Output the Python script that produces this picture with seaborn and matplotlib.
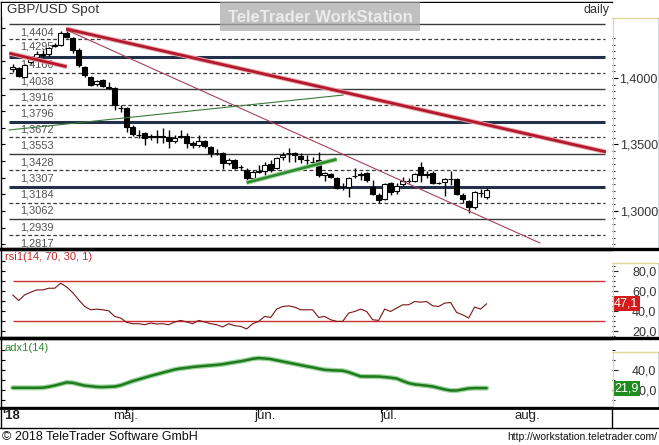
import numpy as np
import pandas as pd
import matplotlib
matplotlib.use("Agg")
import matplotlib.pyplot as plt
import matplotlib.ticker as mticker
import matplotlib.transforms as mtransforms
from matplotlib.patches import Rectangle
from matplotlib.lines import Line2D
import seaborn as sns

sns.set_style("white")
plt.rcParams['font.family'] = ['Liberation Sans', 'DejaVu Sans']

# ---------------- data (daily GBP/USD, trading-day index) ----------------
opens = [1.4065, 1.4077, 1.4010, 1.4120, 1.4158, 1.4173, 1.4180, 1.4244, 1.4248, 1.4338,
         1.4301, 1.4211, 1.4083, 1.4008, 1.3953, 1.3985, 1.3932, 1.3925, 1.3778, 1.3774,
         1.3632, 1.3575, 1.3586, 1.3564, 1.3564, 1.3564, 1.3556, 1.3526, 1.3560, 1.3564,
         1.3511, 1.3496, 1.3526, 1.3481, 1.3436, 1.3436, 1.3361, 1.3383, 1.3331, 1.3308,
         1.3248, 1.3293, 1.3301, 1.3353, 1.3323, 1.3406, 1.3436, 1.3436, 1.3413, 1.3383,
         1.3372, 1.3383, 1.3271, 1.3278, 1.3248, 1.3180, 1.3180, 1.3260, 1.3278, 1.3286,
         1.3180, 1.3120, 1.3090, 1.3210, 1.3150, 1.3203, 1.3225, 1.3225, 1.3331, 1.3278,
         1.3286, 1.3210, 1.3218, 1.3240, 1.3240, 1.3120, 1.3075, 1.3030, 1.3135, 1.3105]
closes = [1.4085, 1.4015, 1.4098, 1.4143, 1.4180, 1.4180, 1.4226, 1.4248, 1.4338, 1.4308,
          1.4211, 1.4098, 1.4023, 1.3947, 1.3980, 1.3940, 1.3925, 1.3797, 1.3774, 1.3632,
          1.3579, 1.3571, 1.3549, 1.3556, 1.3560, 1.3560, 1.3526, 1.3549, 1.3564, 1.3511,
          1.3496, 1.3526, 1.3489, 1.3436, 1.3433, 1.3361, 1.3383, 1.3323, 1.3327, 1.3248,
          1.3293, 1.3297, 1.3346, 1.3308, 1.3398, 1.3421, 1.3433, 1.3421, 1.3391, 1.3380,
          1.3368, 1.3271, 1.3286, 1.3256, 1.3173, 1.3177, 1.3248, 1.3263, 1.3274, 1.3233,
          1.3128, 1.3083, 1.3203, 1.3143, 1.3188, 1.3225, 1.3229, 1.3278, 1.3271, 1.3274,
          1.3210, 1.3210, 1.3240, 1.3237, 1.3128, 1.3090, 1.3030, 1.3143, 1.3132, 1.3158]
highs = [1.4105, 1.4085, 1.4105, 1.4165, 1.4203, 1.4211, 1.4233, 1.4263, 1.4353, 1.4361,
         1.4308, 1.4226, 1.4090, 1.4015, 1.3985, 1.3992, 1.3970, 1.3932, 1.3797, 1.3782,
         1.3647, 1.3609, 1.3594, 1.3579, 1.3609, 1.3624, 1.3609, 1.3571, 1.3609, 1.3586,
         1.3526, 1.3571, 1.3534, 1.3489, 1.3466, 1.3444, 1.3398, 1.3391, 1.3346, 1.3323,
         1.3308, 1.3346, 1.3368, 1.3383, 1.3406, 1.3444, 1.3474, 1.3444, 1.3436, 1.3421,
         1.3406, 1.3444, 1.3293, 1.3286, 1.3256, 1.3210, 1.3256, 1.3323, 1.3293, 1.3293,
         1.3233, 1.3135, 1.3210, 1.3218, 1.3210, 1.3256, 1.3248, 1.3286, 1.3368, 1.3301,
         1.3301, 1.3218, 1.3248, 1.3301, 1.3248, 1.3135, 1.3083, 1.3150, 1.3165, 1.3173]
lows = [1.4045, 1.4005, 1.4008, 1.4105, 1.4150, 1.4158, 1.4165, 1.4233, 1.4241, 1.4301,
        1.4188, 1.4083, 1.4008, 1.3940, 1.3940, 1.3932, 1.3917, 1.3759, 1.3744, 1.3594,
        1.3564, 1.3549, 1.3496, 1.3534, 1.3511, 1.3511, 1.3474, 1.3511, 1.3549, 1.3474,
        1.3474, 1.3481, 1.3474, 1.3406, 1.3421, 1.3316, 1.3346, 1.3316, 1.3308, 1.3210,
        1.3240, 1.3286, 1.3271, 1.3293, 1.3316, 1.3383, 1.3368, 1.3368, 1.3361, 1.3346,
        1.3346, 1.3256, 1.3225, 1.3248, 1.3165, 1.3158, 1.3105, 1.3248, 1.3233, 1.3218,
        1.3120, 1.3060, 1.3083, 1.3120, 1.3128, 1.3188, 1.3210, 1.3218, 1.3218, 1.3248,
        1.3203, 1.3203, 1.3113, 1.3195, 1.3120, 1.3060, 1.2985, 1.3015, 1.3105, 1.3090]

rsi = [56, 50.3, 56, 58.7, 61, 61, 62.7, 62.7, 67.7, 64,
       58.3, 51, 44.3, 41, 41.7, 41, 40, 34.3, 32.7, 28.3,
       27, 27, 26, 27.7, 26.7, 27, 26, 28.7, 30.3, 28.7,
       27, 30.3, 28.7, 27, 26, 23.7, 27, 25, 24.3, 21.7,
       27, 29.3, 34.3, 33.3, 41.7, 44.3, 45, 43.7, 41, 41,
       41, 33.3, 34.3, 31, 29.3, 29.3, 37.7, 39.3, 41.7, 39.3,
       31, 30.3, 41.7, 39.3, 42.7, 46, 46, 49.3, 48.7, 49.3,
       45, 44.3, 47.7, 48.3, 38.3, 36, 32.7, 43.7, 41.7, 47.1]

adx = [22.2, 22.2, 22.2, 22.2, 22.2, 22.3, 23.2, 24.5, 26.0, 27.6,
       27.2, 25.8, 24.4, 23.8, 23.1, 22.9, 23.2, 23.4, 24.7, 26.8,
       28.9, 30.6, 32.4, 34.1, 35.7, 37.3, 38.9, 40.5, 41.5, 42.2,
       43.0, 43.6, 44.1, 44.6, 45.1, 45.8, 46.8, 47.8, 48.7, 49.9,
       51.2, 51.9, 51.5, 50.9, 49.7, 48.5, 47.3, 46.1, 44.9, 43.7,
       42.6, 41.3, 40.2, 39.8, 39.5, 39.3, 37.8, 35.7, 33.6, 33.5,
       33.5, 33.4, 32.9, 32.3, 31.5, 29.1, 26.9, 25.6, 25.0, 24.3,
       23.5, 22.1, 20.6, 19.5, 19.5, 20.5, 21.6, 21.9, 21.9, 21.9]

levels = [1.4404, 1.4295, 1.4160, 1.4038, 1.3916, 1.3796, 1.3672,
          1.3553, 1.3428, 1.3307, 1.3184, 1.3062, 1.2939, 1.2817]
level_styles = ['solid', 'dashed', 'thick', 'dashed', 'solid', 'dashed', 'thick',
                'dashed', 'solid', 'dashed', 'thick', 'dashed', 'solid', 'dashed']

# trend lines: (index, price) endpoints
trend_main_x, trend_main_y = [8.9, 98.9], [1.4369, 1.3444]
trend_chan_x, trend_chan_y = [-0.57, 9.0], [1.4186, 1.4085]
trend_thin_x, trend_thin_y = [9.0, 87.9], [1.4361, 1.2759]
green_thin_x, green_thin_y = [-0.6, 55.1], [1.3609, 1.3872]
green_thick_x, green_thick_y = [39.0, 54.0], [1.3213, 1.3389]

month_labels = ["'18", "máj.", "jún.", "júl.", "aug."]
month_label_pos = [-0.3, 18.9, 42.0, 62.7, 85.7]
month_tick_pos = [18.9, 40.9, 61.4, 86.0]

# ---------------- figure / layout ----------------
W, H = 659, 445
fig = plt.figure(figsize=(W / 100, H / 100), dpi=100)
fig.patch.set_facecolor('white')


def px_axes(x0, y0, x1, y1, **kw):
    return fig.add_axes([x0 / W, 1 - y1 / H, (x1 - x0) / W, (y1 - y0) / H], **kw)


def fx(px):
    return px / W


def fy(py):
    return 1 - py / H


XL, XR = 1, 612
ax = px_axes(XL, 2, XR, 248)
ax_rsi = px_axes(XL, 250, XR, 337, sharex=ax)
ax_adx = px_axes(XL, 339, XR, 407, sharex=ax)

XMIN, XMAX = -1.95, 99.9
LINE_X0, LINE_X1 = -0.6, 98.7
ax.set_xlim(XMIN, XMAX)

for a in (ax, ax_rsi, ax_adx):
    a.set_facecolor('white')
    for s in ('left', 'top', 'bottom'):
        a.spines[s].set_color('black')
        a.spines[s].set_linewidth(1.0)
    a.spines['right'].set_visible(False)
    a.yaxis.tick_right()
    a.tick_params(axis='x', which='both', bottom=False, top=False, labelbottom=False)


def left_ticks(a, step, lo_v, hi_v):
    sec = a.secondary_yaxis('left')
    sec.yaxis.set_major_locator(mticker.FixedLocator(np.arange(lo_v, hi_v, step)))
    sec.tick_params(axis='y', which='major', direction='in', length=3, width=0.8,
                    color='black', labelleft=False)
    sec.spines['left'].set_visible(False)


# ---------------- price panel ----------------
o = np.array(opens)
c = np.array(closes)
hi = np.array(highs)
lo = np.array(lows)
idx = np.arange(len(o))
up = c >= o

for lv, st in zip(levels, level_styles):
    if st == 'thick':
        ax.hlines(lv, LINE_X0, LINE_X1, color='#233049', lw=2.2, zorder=1)
    elif st == 'solid':
        ax.hlines(lv, LINE_X0, LINE_X1, color='#3a3a3a', lw=1.0, zorder=1)
    else:
        ax.hlines(lv, LINE_X0, LINE_X1, color='#3a3a3a', lw=0.9, linestyles=(0, (3, 2)), zorder=1)
    ax.annotate(f"{lv:.4f}".replace('.', ','), xy=(1.3, lv), xycoords='data',
                xytext=(0, -2.2), textcoords='offset points', ha='left', va='top',
                fontsize=7.9, color='#555555', zorder=2, annotation_clip=True)

ax.vlines(idx, lo, hi, color='black', lw=1.0, zorder=3)
body_h = np.maximum(np.abs(c - o), 0.0004)
ax.bar(idx, body_h, bottom=np.minimum(o, c), width=0.8,
       color=np.where(up, 'white', 'black'), edgecolor='black', linewidth=0.8, zorder=4)

# trend lines
for xs, ys in ((trend_main_x, trend_main_y), (trend_chan_x, trend_chan_y)):
    ax.plot(xs, ys, color='#eaa3a8', lw=3.4, solid_capstyle='butt', zorder=5)
    ax.plot(xs, ys, color='#b3192c', lw=2.0, solid_capstyle='butt', zorder=6)
ax.plot(trend_thin_x, trend_thin_y, color='#a8405a', lw=0.8, zorder=5)
ax.plot(green_thin_x, green_thin_y, color='#3b7a3b', lw=0.8, zorder=5)
ax.plot(green_thick_x, green_thick_y, color='#a8d8a8', lw=3.4, solid_capstyle='butt', zorder=5)
ax.plot(green_thick_x, green_thick_y, color='#2e8a2e', lw=1.9, solid_capstyle='butt', zorder=6)

ax.set_ylim(1.27216, 1.45715)
ax.yaxis.set_major_locator(mticker.FixedLocator([1.30, 1.35, 1.40]))
ax.yaxis.set_minor_locator(mticker.FixedLocator(np.arange(1.275, 1.431, 0.005)))
ax.yaxis.set_major_formatter(mticker.FuncFormatter(lambda v, p: f"{v:.4f}".replace('.', ',')))
ax.tick_params(axis='y', which='major', right=True, left=False, direction='out', length=4,
               width=0.8, color='black', labelsize=9, labelcolor='#333333', pad=29)
ax.tick_params(axis='y', which='minor', right=True, left=False, direction='out', length=2.5,
               width=0.8, color='#333333')
for lbl in ax.get_yticklabels():
    lbl.set_ha('right')
left_ticks(ax, 0.0125, 1.275, 1.455)

# ---------------- RSI panel ----------------
ax_rsi.hlines([70, 30], 0, LINE_X1, color='#c83030', lw=1.0, zorder=1)
sns.lineplot(x=idx, y=rsi, ax=ax_rsi, color='#7a1414', lw=0.8, zorder=3)
ax_rsi.set_ylim(13.6, 101.2)
ax_rsi.set_ylabel('')
ax_rsi.yaxis.set_major_locator(mticker.FixedLocator([20, 40, 60, 80]))
ax_rsi.yaxis.set_minor_locator(mticker.FixedLocator(np.arange(15, 90, 5)))
ax_rsi.yaxis.set_major_formatter(mticker.FuncFormatter(lambda v, p: f"{v:.1f}".replace('.', ',')))
ax_rsi.tick_params(axis='y', which='major', right=True, left=False, direction='out', length=4,
                   width=0.8, labelsize=9, labelcolor='#333333', pad=28)
ax_rsi.tick_params(axis='y', which='minor', right=True, left=False, direction='out', length=2.5, width=0.8)
for lbl in ax_rsi.get_yticklabels():
    lbl.set_ha('right')
left_ticks(ax_rsi, 10, 20, 95)
ax_rsi.text(0.006, 0.92, 'rsi1(14, 70, 30, 1)', transform=ax_rsi.transAxes, ha='left', va='center',
            fontsize=8, color='#c0282d')
tr_rsi = mtransforms.blended_transform_factory(ax_rsi.transAxes, ax_rsi.transData)
ax_rsi.annotate(f"{rsi[-1]:.1f}".replace('.', ','), xy=(1.0, rsi[-1]), xycoords=tr_rsi,
                xytext=(1.5, 0), textcoords='offset points', ha='left', va='center',
                color='white', fontsize=9, annotation_clip=False, zorder=20,
                bbox=dict(boxstyle='square,pad=0.12', fc='#d41c1c', ec='none'))

# ---------------- ADX panel ----------------
sns.lineplot(x=idx, y=adx, ax=ax_adx, color='#9ed69e', lw=3.6, zorder=2)
sns.lineplot(x=idx, y=adx, ax=ax_adx, color='#1f7a1f', lw=1.8, zorder=3)
ax_adx.set_ylim(3, 71)
ax_adx.set_ylabel('')
ax_adx.yaxis.set_major_locator(mticker.FixedLocator([20, 40]))
ax_adx.yaxis.set_minor_locator(mticker.FixedLocator(np.arange(10, 70, 10)))
ax_adx.yaxis.set_major_formatter(mticker.FuncFormatter(lambda v, p: f"{v:.1f}".replace('.', ',')))
ax_adx.tick_params(axis='y', which='major', right=True, left=False, direction='out', length=4,
                   width=0.8, labelsize=9, labelcolor='#333333', pad=28)
ax_adx.tick_params(axis='y', which='minor', right=True, left=False, direction='out', length=2.5, width=0.8)
for lbl in ax_adx.get_yticklabels():
    lbl.set_ha('right')
left_ticks(ax_adx, 10, 10, 70)
ax_adx.text(0.006, 0.87, 'adx1(14)', transform=ax_adx.transAxes, ha='left', va='center',
            fontsize=8, color='#2e8b2e')
tr_adx = mtransforms.blended_transform_factory(ax_adx.transAxes, ax_adx.transData)
ax_adx.annotate(f"{adx[-1]:.1f}".replace('.', ','), xy=(1.0, adx[-1]), xycoords=tr_adx,
                xytext=(1.5, 0), textcoords='offset points', ha='left', va='center',
                color='white', fontsize=9, annotation_clip=False, zorder=20,
                bbox=dict(boxstyle='square,pad=0.12', fc='#1f8c1f', ec='none'))

# x axis (months)
ax_adx.set_xticks(month_tick_pos)
ax_adx.tick_params(axis='x', which='major', bottom=True, direction='out', length=4, width=0.8,
                   color='black', labelbottom=False)
ax.tick_params(axis='x', which='both', bottom=False)
ax_rsi.tick_params(axis='x', which='both', bottom=False)
ax_adx.set_xlim(XMIN, XMAX)
tr_x = mtransforms.blended_transform_factory(ax_adx.transData, ax_adx.transAxes)
for lab, pos in zip(month_labels, month_label_pos):
    ax_adx.text(pos, -0.135, lab, transform=tr_x, ha='center', va='center', fontsize=9.5,
                color='#222222', fontweight='bold' if lab.startswith("'") else 'normal')

# ---------------- decorations in figure pixels ----------------
def fig_rect(x0, y0, x1, y1, **kw):
    r = Rectangle((fx(x0), fy(y1)), fx(x1) - fx(x0), fy(y0) - fy(y1), transform=fig.transFigure, **kw)
    fig.patches.append(r)


def fig_line(x0, y0, x1, y1, **kw):
    fig.lines.append(Line2D([fx(x0), fx(x1)], [fy(y0), fy(y1)], transform=fig.transFigure, **kw))


# title band
fig_rect(1.6, 3, 611.5, 16.5, facecolor='white', edgecolor='none', zorder=3)
fig.text(fx(7), fy(9.5), 'GBP/USD Spot', fontsize=9.7, color='#333333', ha='left', va='center', zorder=6)
fig.text(fx(609), fy(9.5), 'daily', fontsize=9, color='#333333', ha='right', va='center', zorder=6)
# watermark
fig_rect(220, 2.5, 420, 31, facecolor='#a8a8a8', edgecolor='none', alpha=0.72, zorder=4)
fig.text(fx(320), fy(17), 'TeleTrader WorkStation', fontsize=12, fontweight='bold', color='#ececec',
         ha='center', va='center', zorder=6)

# right axis boxes
for (y0, y1) in ((18, 248), (263, 337), (352, 407)):
    fig_line(612, y0, 658.5, y0, color='#e0d89a', lw=1.0, zorder=2)
    fig_line(612.5, y0, 612.5, y1, color='#e0d89a', lw=0.8, zorder=1)
    fig_line(658.5, y0, 658.5, y1, color='#1f2a55', lw=1.0, zorder=2)

# separators
fig_line(0, 249, W, 249, color='black', lw=2.4, zorder=5)
fig_line(0, 338, W, 338, color='black', lw=2.4, zorder=5)
fig_line(0, 407.5, W, 407.5, color='black', lw=2.0, zorder=5)
fig_line(0, 427.5, W, 427.5, color='black', lw=1.0, zorder=5)
fig_line(612, 407, 612, 427.5, color='black', lw=1.0, zorder=5)
fig_line(0.5, 407, 0.5, 427.5, color='black', lw=1.0, zorder=5)

# footer
fig.text(fx(2), fy(437), '© 2018 TeleTrader Software GmbH', fontsize=9, color='#111111',
         ha='left', va='center')
fig.text(fx(657), fy(437.5), 'http://workstation.teletrader.com/', fontsize=7.5, color='#111111',
         ha='right', va='center')

fig.savefig('out.png', dpi=100, facecolor='white')
